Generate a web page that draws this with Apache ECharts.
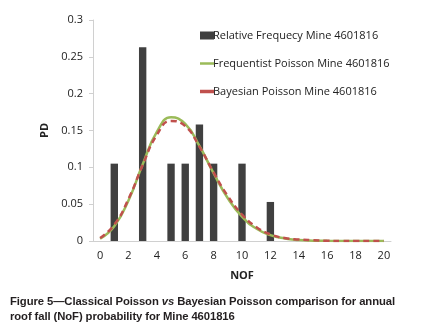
<!DOCTYPE html>
<html>
<head>
<meta charset="utf-8">
<script src="https://cdn.jsdelivr.net/npm/echarts@6/dist/echarts.min.js"></script>
<style>
  html, body { margin: 0; padding: 0; background: #fff; }
  #wrap { position: relative; width: 427px; height: 332px; }
  #chart { position: absolute; left: 0; top: 0; width: 427px; height: 332px; }
  .caption {
    position: absolute; left: 10px; top: 294px; width: 417px;
    font-family: "Liberation Sans", Arial, sans-serif; font-weight: bold;
    font-size: 11.3px; line-height: 15px; color: #231f20; letter-spacing: -0.1px;
    white-space: nowrap;
  }
</style>
</head>
<body>
<div id="wrap">
  <div id="chart"></div>
  <div class="caption">Figure 5—Classical Poisson <i>vs</i> Bayesian Poisson comparison for annual<br>roof fall (NoF) probability for Mine 4601816</div>
</div>
<script>
  // NOF categories 0..20
  const nof = ['0','1','2','3','4','5','6','7','8','9','10','11','12','13','14','15','16','17','18','19','20'];
  const relFreq = [0, 0.105, 0, 0.263, 0, 0.105, 0.105, 0.158, 0.105, 0, 0.105, 0, 0.053, 0, 0, 0, 0, 0, 0, 0, 0];
  const freqPoisson = [0.003, 0.020, 0.055, 0.104, 0.148, 0.168, 0.159, 0.129, 0.092, 0.058, 0.033, 0.017, 0.008, 0.0035, 0.0014, 0.0005, 0.0002, 0.0001, 0, 0, 0];
  const bayesPoisson = [0.004, 0.022, 0.057, 0.103, 0.144, 0.163, 0.156, 0.128, 0.093, 0.061, 0.036, 0.019, 0.009, 0.004, 0.002, 0.001, 0.0003, 0.0001, 0, 0, 0];
  const yTicks = [0, 0.05, 0.1, 0.15, 0.2, 0.25, 0.3];

  const font = 'Open Sans, sans-serif';
  const chart = echarts.init(document.getElementById('chart'));
  chart.setOption({
    animation: false,
    grid: {left: 93, right: 36, top: 20, bottom: 91},
    legend: {
      orient: 'vertical', left: 195, top: 25, itemGap: 17,
      itemWidth: 14, itemHeight: 8,
      textStyle: {fontFamily: font, fontSize: 11, color: '#222', padding: [0, 0, 0, -6]},
      data: [
        {name: 'Relative Frequecy Mine 4601816', icon: 'rect'},
        {name: 'Frequentist Poisson Mine 4601816', icon: 'path://M0,0H14V2.5H0Z'},
        {name: 'Bayesian Poisson Mine 4601816', icon: 'path://M4,0H14V2.5H4Z'}
      ]
    },
    xAxis: {
      type: 'category', data: nof,
      name: 'NOF', nameLocation: 'middle', nameGap: 29,
      nameTextStyle: {fontFamily: font, fontSize: 11, fontWeight: 'bold', color: '#222'},
      axisLine: {lineStyle: {color: '#d0d0d0'}},
      axisTick: {interval: 0, length: 4, lineStyle: {color: '#d0d0d0'}},
      axisLabel: {interval: 1, margin: 9, fontFamily: font, fontSize: 11, color: '#222'}
    },
    yAxis: {
      type: 'value', min: yTicks[0], max: yTicks[yTicks.length - 1], interval: 0.05,
      name: 'PD', nameLocation: 'middle', nameGap: 36, nameRotate: 90,
      nameTextStyle: {fontFamily: font, fontSize: 11, fontWeight: 'bold', color: '#222'},
      axisLine: {show: true, lineStyle: {color: '#d0d0d0'}},
      axisTick: {show: true, length: 4, lineStyle: {color: '#d0d0d0'}},
      splitLine: {show: false},
      axisLabel: {margin: 10, fontFamily: font, fontSize: 11, color: '#222',
        formatter: v => String(+v.toFixed(2))}
    },
    series: [
      {
        name: 'Relative Frequecy Mine 4601816', type: 'bar', data: relFreq,
        barWidth: '52%', itemStyle: {color: '#404040'}
      },
      {
        name: 'Frequentist Poisson Mine 4601816', type: 'line', data: freqPoisson,
        smooth: true, symbol: 'none', lineStyle: {color: '#9bbb59', width: 2.5},
        itemStyle: {color: '#9bbb59'}
      },
      {
        name: 'Bayesian Poisson Mine 4601816', type: 'line', data: bayesPoisson,
        smooth: true, symbol: 'none', lineStyle: {color: '#c0504d', width: 2.5, type: [6, 4]},
        itemStyle: {color: '#c0504d'}
      }
    ]
  });
</script>
</body>
</html>
